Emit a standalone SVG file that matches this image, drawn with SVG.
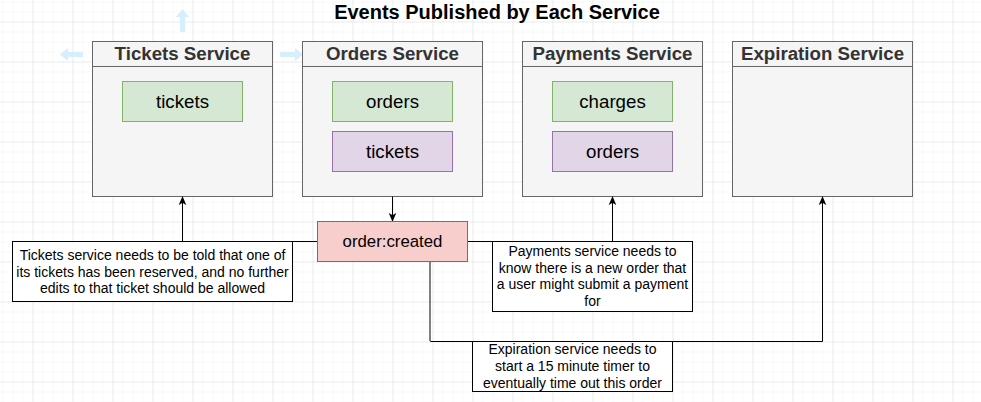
<svg xmlns="http://www.w3.org/2000/svg" width="981" height="402" viewBox="0 0 981 402">
<defs>
<pattern id="minor" x="2.5" y="1.5" width="10" height="10" patternUnits="userSpaceOnUse">
<path d="M0,0 H10 M0,0 V10" fill="none" stroke="#f2f2f2" stroke-width="1"/>
</pattern>
<pattern id="major" x="32.5" y="21.5" width="40" height="40" patternUnits="userSpaceOnUse">
<path d="M0,0 H40 M0,0 V40" fill="none" stroke="#e2e2e2" stroke-width="1"/>
</pattern>
<marker id="arr" viewBox="0 0 10 10" refX="9" refY="5" markerWidth="9" markerHeight="9" markerUnits="userSpaceOnUse" orient="auto">
<path d="M0,0.8 L10,5 L0,9.2 L2.5,5 z" fill="#000"/>
</marker>
</defs>
<style>
text{font-family:"Liberation Sans",Arial,Helvetica,sans-serif;text-anchor:middle}
.svc .frame{fill:#f5f5f5;stroke:#666666;stroke-width:1}
.svc line{stroke:#666666;stroke-width:1}
.hdr{font-size:18.7px;font-weight:bold;fill:#333333}
.svc .grn{fill:#d5e8d4;stroke:#82b366;stroke-width:1}
.svc .prp{fill:#e1d5e7;stroke:#9673a6;stroke-width:1}
.lbl{font-size:18.7px;fill:#000}
.note rect{fill:#ffffff;stroke:#000;stroke-width:1}
.note text{font-size:14px;fill:#000}
.conn{fill:none;stroke:#000;stroke-width:1}
.hint{fill:#d6effc}
</style>
<rect width="981" height="402" fill="#ffffff"/>
<rect width="981" height="402" fill="url(#minor)"/>
<rect width="981" height="402" fill="url(#major)"/>

<g id="hints">
<path class="hint" d="M182.5,9 L189,17 L185,17 L185,32 L180,32 L180,17 L176,17 z"/>
<path class="hint" d="M60,54.5 L68,48 L68,52 L83,52 L83,57 L68,57 L68,61 z"/>
<path class="hint" d="M303,54.5 L295,48 L295,52 L280,52 L280,57 L295,57 L295,61 z"/>
</g>

<text id="title" x="497" y="19" style="font-size:20px;font-weight:bold;fill:#000">Events Published by Each Service</text>

<g id="tickets-service" class="svc">
<rect class="frame" x="92.5" y="41.5" width="180" height="155"/>
<line x1="92.5" y1="66.5" x2="272.5" y2="66.5"/>
<text class="hdr" x="182.5" y="60">Tickets Service</text>
<rect class="grn" x="122.5" y="81.5" width="120" height="40"/>
<text class="lbl" x="182.5" y="108">tickets</text>
</g>

<g id="orders-service" class="svc">
<rect class="frame" x="302.5" y="41.5" width="180" height="155"/>
<line x1="302.5" y1="66.5" x2="482.5" y2="66.5"/>
<text class="hdr" x="392.5" y="60">Orders Service</text>
<rect class="grn" x="332.5" y="81.5" width="120" height="40"/>
<text class="lbl" x="392.5" y="108">orders</text>
<rect class="prp" x="332.5" y="131.5" width="120" height="40"/>
<text class="lbl" x="392.5" y="158">tickets</text>
</g>

<g id="payments-service" class="svc">
<rect class="frame" x="522.5" y="41.5" width="180" height="155"/>
<line x1="522.5" y1="66.5" x2="702.5" y2="66.5"/>
<text class="hdr" x="612.5" y="60">Payments Service</text>
<rect class="grn" x="552.5" y="81.5" width="120" height="40"/>
<text class="lbl" x="612.5" y="108">charges</text>
<rect class="prp" x="552.5" y="131.5" width="120" height="40"/>
<text class="lbl" x="612.5" y="158">orders</text>
</g>

<g id="expiration-service" class="svc">
<rect class="frame" x="732.5" y="41.5" width="180" height="155"/>
<line x1="732.5" y1="66.5" x2="912.5" y2="66.5"/>
<text class="hdr" x="822.5" y="60">Expiration Service</text>
</g>

<g id="connectors">
<path class="conn" d="M392.5,196.5 V221" marker-end="url(#arr)"/>
<path class="conn" d="M317.5,241.5 H182.5 V197" marker-end="url(#arr)"/>
<path class="conn" d="M467.5,241.5 H612.5 V197" marker-end="url(#arr)"/>
<path class="conn" d="M430.5,261.5 V341.5 H822.5 V197" marker-end="url(#arr)"/>
<path d="M430,261.5 V341" fill="none" stroke="#808080" stroke-width="2"/>
</g>

<g id="order-created">
<rect x="317.5" y="221.5" width="150" height="40" fill="#f8cecc" stroke="#b85450" stroke-width="1"/>
<text x="392.5" y="247" style="font-size:16.8px;fill:#000">order:created</text>
</g>

<g id="note-tickets" class="note">
<rect x="12.5" y="241.5" width="280" height="60"/>
<text x="152.5" y="260">Tickets service needs to be told that one of</text>
<text x="152.5" y="276.7">its tickets has been reserved, and no further</text>
<text x="152.5" y="293.3">edits to that ticket should be allowed</text>
</g>

<g id="note-payments" class="note">
<rect x="492.5" y="241.5" width="200" height="70"/>
<text x="592.5" y="256">Payments service needs to</text>
<text x="592.5" y="272.7">know there is a new order that</text>
<text x="592.5" y="289.4">a user might submit a payment</text>
<text x="592.5" y="306">for</text>
</g>

<g id="note-expiration" class="note">
<rect x="472.5" y="341.5" width="200" height="50"/>
<text x="572.5" y="354.3">Expiration service needs to</text>
<text x="572.5" y="371">start a 15 minute timer to</text>
<text x="572.5" y="387.7">eventually time out this order</text>
</g>
</svg>
